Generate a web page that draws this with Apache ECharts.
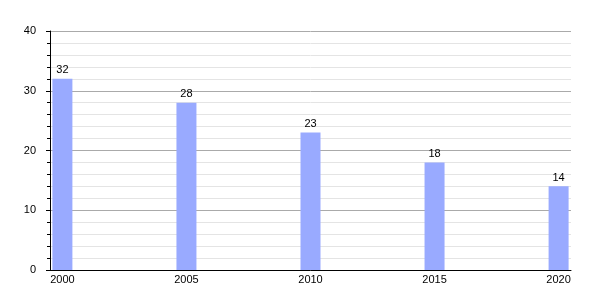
<!DOCTYPE html>
<html>
<head>
<meta charset="utf-8">
<script src="https://cdn.jsdelivr.net/npm/echarts@6/dist/echarts.min.js"></script>
<style>
  html, body { margin: 0; padding: 0; background: #fff; }
  #chart { width: 600px; height: 300px; }
</style>
</head>
<body>
<div id="chart"></div>
<script>
// every year on the axis, only some have a bar
const axisYears = ['2000', '2001', '2002', '2003', '2004', '2005', '2006', '2007', '2008', '2009', '2010',
  '2011', '2012', '2013', '2014', '2015', '2016', '2017', '2018', '2019', '2020']
const years = ['2000', '2005', '2010', '2015', '2020']
const values = [32, 28, 23, 18, 14]
const yTicks = [0, 10, 20, 30, 40]

const chart = echarts.init(document.getElementById('chart'))
chart.setOption({
  animation: false,
  textStyle: { fontFamily: 'Liberation Sans, Arial, sans-serif' },
  grid: { left: 50, right: 29, top: 31, bottom: 30 },
  xAxis: {
    type: 'category',
    data: axisYears,
    boundaryGap: true,
    axisLine: { lineStyle: { color: '#000', width: 1 } },
    axisTick: { show: false },
    axisLabel: {
      color: '#000',
      fontSize: 11,
      margin: 4,
      interval: (i, v) => years.includes(v)
    },
    splitLine: { show: false }
  },
  yAxis: {
    type: 'value',
    min: yTicks[0],
    max: yTicks[yTicks.length - 1],
    interval: 10,
    axisLine: { show: true, lineStyle: { color: '#000', width: 1 } },
    axisTick: { show: true, length: 4, lineStyle: { color: '#000' } },
    minorTick: { show: true, splitNumber: 5, length: 3, lineStyle: { color: '#000' } },
    axisLabel: { color: '#000', fontSize: 11, margin: 14 },
    splitLine: { show: true, lineStyle: { color: '#aaaaaa', width: 1 } },
    minorSplitLine: { show: true, lineStyle: { color: '#e4e4e4', width: 1 } }
  },
  series: [{
    type: 'bar',
    data: years.map((y, i) => [y, values[i]]),
    barWidth: 20,
    itemStyle: { color: '#99aaff' },
    label: { show: true, position: 'top', color: '#000', fontSize: 11, distance: 3 }
  }]
})
</script>
</body>
</html>
